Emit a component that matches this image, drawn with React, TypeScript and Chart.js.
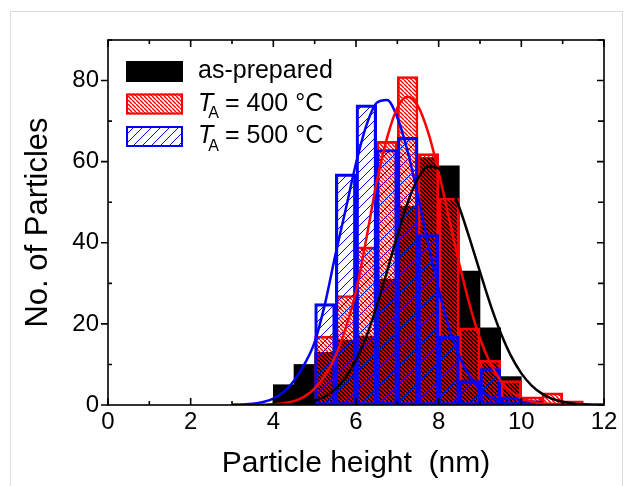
import React, { useEffect, useRef } from "react";
import { Chart, registerables } from "chart.js";

Chart.register(...registerables);

// Histogram bins (centre of each 0.5 nm bin)
const binCenters = [4.25, 4.75, 5.25, 5.75, 6.25, 6.75, 7.25, 7.75, 8.25, 8.75, 9.25, 9.75, 10.25, 10.75, 11.25];
const asPrepared = [5, 10, 13, 16, 17, 31, 49, 61, 59, 33, 19, 7, 1, 0, 0];
const ta400 = [0, 0, 17, 27, 39, 65, 81, 62, 51, 19, 11, 6, 2, 3, 1];
const ta500 = [0, 0, 25, 57, 74, 63, 66, 42, 17, 6, 9, 2, 1, 0, 0];

// Fitted curves
const curveX = [3, 3.25, 3.5, 3.75, 4, 4.25, 4.5, 4.75, 5, 5.25, 5.5, 5.75, 6, 6.25, 6.5, 6.75, 7, 7.25, 7.5, 7.75, 8, 8.25, 8.5, 8.75, 9, 9.25, 9.5, 9.75, 10, 10.25, 10.5, 10.75, 11, 11.25, 11.5, 11.75, 12];
const fitAsPrepared = [0, 0, 0, 0.02, 0.04, 0.1, 0.23, 0.51, 1.1, 2.1, 3.9, 6.8, 11.1, 16.9, 24.4, 32.9, 41.8, 49.9, 55.9, 58.8, 58.3, 54.7, 48.7, 41.0, 32.8, 24.8, 17.8, 12.1, 7.8, 4.8, 2.8, 1.5, 0.8, 0.4, 0.18, 0.08, 0.03];
const fit400 = [0, 0, 0.02, 0.06, 0.17, 0.42, 0.96, 2.05, 4.1, 7.3, 12, 19, 28, 41, 54.9, 65.8, 73.3, 76, 73.7, 67.1, 57.4, 46.1, 34.8, 24.7, 16.4, 10.3, 6.0, 3.3, 1.7, 0.84, 0.39, 0.17, 0.07, 0.03, 0.01, 0, 0];
const fit500 = [0.05, 0.14, 0.33, 0.76, 1.6, 3.2, 6.0, 10.0, 15.5, 25, 37, 48.2, 59.6, 68.9, 74.5, 75.2, 70.9, 62.5, 51.5, 39.6, 28.5, 19.1, 12.0, 7.1, 3.9, 2.0, 0.94, 0.4, 0.17, 0.07, 0.02, 0, 0, 0, 0, 0, 0];

// Axes
const xMajorTicks = [0, 2, 4, 6, 8, 10, 12];
const xMinorTicks = [1, 3, 5, 7, 9, 11];
const yMajorTicks = [0, 20, 40, 60, 80];
const yMinorTicks = [10, 30, 50, 70, 90];

const xTitle = "Particle height  (nm)";
const yTitle = "No. of Particles";
const legendLabels = ["as-prepared", "= 400 °C", "= 500 °C"];

const FONT = '"Liberation Sans", Arial, Helvetica, sans-serif';

function makePattern(ctx: CanvasRenderingContext2D, color: string, size: number, dir: "down" | "up", lw: number) {
  const c = document.createElement("canvas");
  c.width = size;
  c.height = size;
  const g = c.getContext("2d")!;
  g.strokeStyle = color;
  g.lineWidth = lw;
  g.beginPath();
  for (let k = -1; k <= 1; k++) {
    if (dir === "down") {
      g.moveTo(k * size, 0);
      g.lineTo(k * size + size, size);
    } else {
      g.moveTo(k * size, size);
      g.lineTo(k * size + size, 0);
    }
  }
  g.stroke();
  return ctx.createPattern(c, "repeat")!;
}

function toBars(vals: number[]) {
  return binCenters.map((x, i) => ({ x, y: vals[i] })).filter((p) => p.y > 0);
}

function toLine(vals: number[]) {
  return curveX.map((x, i) => ({ x, y: vals[i] }));
}

export default function App() {
  const ref = useRef<HTMLCanvasElement | null>(null);

  useEffect(() => {
    document.body.style.margin = "0";
    const canvas = ref.current!;
    const ctx = canvas.getContext("2d")!;
    const redPat = makePattern(ctx, "#ff0000", 4, "down", 1.4);
    const bluePat = makePattern(ctx, "#0000ff", 9, "up", 1);

    const framePlugin = {
      id: "frame",
      afterDraw(chart: any) {
        const c = chart.ctx as CanvasRenderingContext2D;
        const xs = chart.scales.x;
        const ys = chart.scales.y;
        const { left, right, top, bottom } = chart.chartArea;
        c.save();
        c.strokeStyle = "#000";
        c.lineWidth = 1.6;
        c.beginPath();
        const tick = (vals: number[], len: number) => {
          vals.forEach((v) => {
            const px = xs.getPixelForValue(v);
            c.moveTo(px, bottom);
            c.lineTo(px, bottom - len);
            c.moveTo(px, top);
            c.lineTo(px, top + len);
          });
        };
        tick(xMajorTicks, 7);
        tick(xMinorTicks, 4);
        yMajorTicks.forEach((v) => {
          const py = ys.getPixelForValue(v);
          c.moveTo(left, py);
          c.lineTo(left - 7, py);
          c.moveTo(right, py);
          c.lineTo(right - 7, py);
        });
        yMinorTicks.forEach((v) => {
          const py = ys.getPixelForValue(v);
          c.moveTo(left, py);
          c.lineTo(left + 4, py);
          c.moveTo(right, py);
          c.lineTo(right - 6, py);
        });
        c.stroke();
        c.strokeRect(left, top, right - left, bottom - top);

        // Legend
        const bx = 126, bw = 57, bh = 21;
        const rows = [61, 93.5, 126];
        c.fillStyle = "#000";
        c.fillRect(bx, rows[0], bw, bh);
        c.fillStyle = "#fff";
        c.fillRect(bx, rows[1], bw, bh);
        c.fillStyle = redPat;
        c.fillRect(bx, rows[1], bw, bh);
        c.strokeStyle = "#ff0000";
        c.lineWidth = 2;
        c.strokeRect(bx + 1, rows[1] + 1, bw - 2, bh - 2);
        c.fillStyle = "#fff";
        c.fillRect(bx, rows[2], bw, bh);
        c.fillStyle = bluePat;
        c.fillRect(bx, rows[2], bw, bh);
        c.strokeStyle = "#0000ff";
        c.lineWidth = 2;
        c.strokeRect(bx + 1, rows[2] + 1, bw - 2, bh - 2);

        c.fillStyle = "#000";
        c.textBaseline = "middle";
        c.textAlign = "left";
        const tx = 198;
        c.font = `25px ${FONT}`;
        c.fillText(legendLabels[0], tx, rows[0] + bh / 2);
        for (let r = 1; r <= 2; r++) {
          const cy = rows[r] + bh / 2;
          c.font = `italic 25px ${FONT}`;
          c.fillText("T", tx, cy);
          const tw = c.measureText("T").width;
          c.font = `16px ${FONT}`;
          c.fillText("A", tx + tw - 5, cy + 10);
          c.font = `25px ${FONT}`;
          c.fillText(legendLabels[r], tx + 27, cy);
        }
        c.restore();
      },
    };

    const chart = new Chart(ctx, {
      type: "bar",
      data: {
        datasets: [
          {
            type: "line",
            label: "fit as-prepared",
            data: toLine(fitAsPrepared),
            borderColor: "#000",
            borderWidth: 2.5,
            pointRadius: 0,
            fill: false,
            cubicInterpolationMode: "monotone",
            order: 0,
          } as any,
          {
            type: "line",
            label: "fit 400",
            data: toLine(fit400),
            borderColor: "#ff0000",
            borderWidth: 2.5,
            pointRadius: 0,
            fill: false,
            cubicInterpolationMode: "monotone",
            order: 0,
          },
          {
            type: "line",
            label: "fit 500",
            data: toLine(fit500),
            borderColor: "#0000ff",
            borderWidth: 2.5,
            pointRadius: 0,
            fill: false,
            cubicInterpolationMode: "monotone",
            order: 0,
          },
          {
            type: "bar",
            label: "TA = 500 °C",
            data: toBars(ta500),
            backgroundColor: bluePat,
            borderColor: "#0000ff",
            borderWidth: 2.5,
            borderSkipped: false,
            grouped: false,
            barPercentage: 1,
            categoryPercentage: 1,
            order: 1,
          },
          {
            type: "bar",
            label: "TA = 400 °C",
            data: toBars(ta400),
            backgroundColor: redPat,
            borderColor: "#ff0000",
            borderWidth: 2,
            borderSkipped: false,
            grouped: false,
            barPercentage: 1,
            categoryPercentage: 1,
            order: 2,
          },
          {
            type: "bar",
            label: "as-prepared",
            data: toBars(asPrepared),
            backgroundColor: "#000",
            borderColor: "#000",
            borderWidth: 0,
            grouped: false,
            barPercentage: 1,
            categoryPercentage: 1,
            order: 3,
          },
        ] as any,
      },
      options: {
        responsive: false,
        animation: false,
        devicePixelRatio: 1,
        layout: { padding: { top: 40, right: 21, left: 0, bottom: 0 } },
        plugins: { legend: { display: false }, tooltip: { enabled: false } },
        events: [],
        scales: {
          x: {
            type: "linear",
            min: 0,
            max: 12,
            offset: false,
            grid: { display: false, drawTicks: false },
            border: { display: false },
            ticks: {
              stepSize: 2,
              autoSkip: false,
              maxRotation: 0,
              padding: 3,
              color: "#000",
              font: { family: FONT, size: 24 },
              includeBounds: false,
            },
            title: {
              display: true,
              text: xTitle,
              color: "#000",
              font: { family: FONT, size: 30 },
              padding: { top: 0, bottom: 4 },
            },
            afterFit: (s: any) => {
              s.height = 81;
            },
          },
          y: {
            type: "linear",
            min: 0,
            max: 90,
            grid: { display: false, drawTicks: false },
            border: { display: false },
            ticks: {
              stepSize: 20,
              padding: 9,
              color: "#000",
              font: { family: FONT, size: 24 },
              includeBounds: false,
            },
            title: {
              display: true,
              text: yTitle,
              color: "#000",
              font: { family: FONT, size: 31 },
              padding: { top: 20, bottom: 0 },
            },
            afterFit: (s: any) => {
              s.width = 108;
            },
          },
        },
      } as any,
      plugins: [framePlugin],
    });
    return () => chart.destroy();
  }, []);

  return (
    <div style={{ position: "relative", width: 625, height: 486, overflow: "hidden", background: "#fff" }}>
      <div
        style={{
          position: "absolute",
          left: 10,
          top: 11,
          width: 611,
          height: 500,
          borderLeft: "1px solid #dcdcdc",
          borderTop: "1px solid #dcdcdc",
          borderRight: "1px solid #dcdcdc",
        }}
      />
      <canvas ref={ref} width={625} height={486} style={{ position: "absolute", left: 0, top: 0, width: 625, height: 486 }} />
    </div>
  );
}
